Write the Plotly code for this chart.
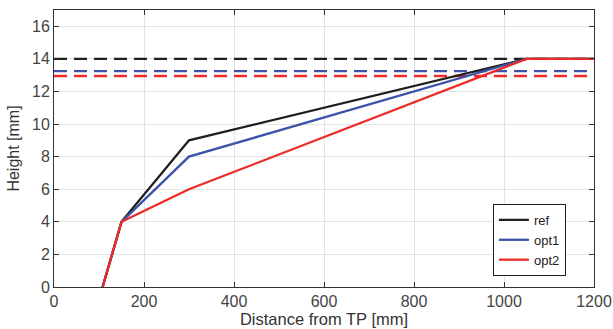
import plotly.graph_objects as go

# Data
x_pts = [108, 150, 300, 1050, 1200]
ref_y = [0, 4, 9, 14, 14]
opt1_y = [0, 4, 8, 14, 14]
opt2_y = [0, 4, 6, 14, 14]

dash_x = [0, 1200]
ref_level = 14.0
opt1_level = 13.25
opt2_level = 12.95

x_ticks = [0, 200, 400, 600, 800, 1000, 1200]
y_ticks = [0, 2, 4, 6, 8, 10, 12, 14, 16]

c_ref = "#1f1f1f"
c_opt1 = "#3a52a8"
c_opt2 = "#ec2a26"

fig = go.Figure()

for lvl, col in [(ref_level, c_ref), (opt1_level, c_opt1), (opt2_level, c_opt2)]:
    fig.add_trace(go.Scatter(x=dash_x, y=[lvl, lvl], mode="lines",
                             line=dict(color=col, width=2.3, dash="13px,7px"),
                             showlegend=False, hoverinfo="skip"))

for name, ys, col in [("ref", ref_y, c_ref), ("opt1", opt1_y, c_opt1), ("opt2", opt2_y, c_opt2)]:
    fig.add_trace(go.Scatter(x=x_pts, y=ys, mode="lines", name=name,
                             line=dict(color=col, width=2.3)))

axis_common = dict(
    showline=True, linecolor="#333", linewidth=1, mirror="ticks",
    ticks="inside", ticklen=5, tickcolor="#333",
    showgrid=True, gridcolor="#e3e3e3", gridwidth=1,
    zeroline=False, tickfont=dict(size=16, color="#444"),
    automargin=False,
)

fig.update_layout(
    width=613, height=329,
    margin=dict(l=54, r=19, t=10, b=42),
    paper_bgcolor="white", plot_bgcolor="white",
    font=dict(family="Liberation Sans, Arial, sans-serif", color="#333"),
    xaxis=dict(range=[0, 1200], tickvals=x_ticks,
               title=dict(text="Distance from TP [mm]", font=dict(size=16.5, color="#333"), standoff=0),
               **axis_common),
    yaxis=dict(range=[0, 17], tickvals=y_ticks,
               title=dict(text="Height [mm]", font=dict(size=16, color="#333"), standoff=8),
               **axis_common),
    legend=dict(x=0.948, y=0.04, xanchor="right", yanchor="bottom",
                bgcolor="white", bordercolor="#222", borderwidth=1,
                font=dict(size=13, color="#222"), tracegroupgap=0,
                itemwidth=30),
)

fig.write_html("out.html", config={"displayModeBar": False},
               post_script="document.body.style.margin='0';document.body.style.overflow='hidden';")
